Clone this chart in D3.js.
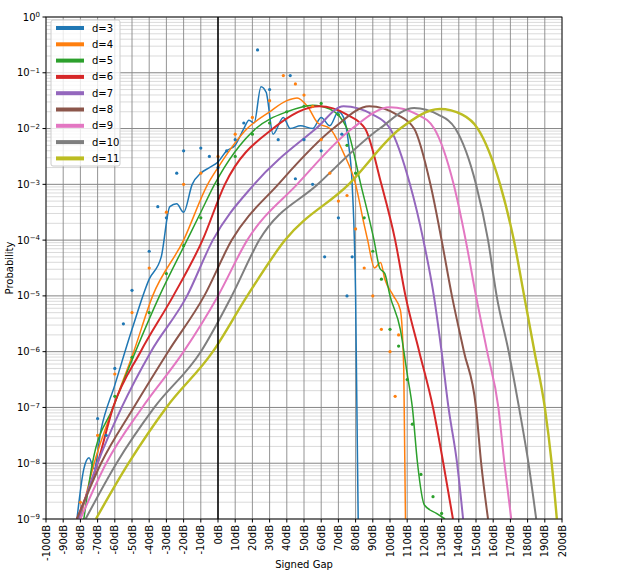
<!DOCTYPE html>
<html><head><meta charset="utf-8">
<script src="https://cdn.jsdelivr.net/npm/d3@7"></script>
<style>body{margin:0;background:#fff}text{font-family:"DejaVu Sans",sans-serif}</style>
</head><body><div id="viz"></div>
<script>
const labels = ['d=3','d=4','d=5','d=6','d=7','d=8','d=9','d=10','d=11'];
const colors = ['#1f77b4','#ff7f0e','#2ca02c','#d62728','#9467bd','#8c564b','#e377c2','#7f7f7f','#bcbd22'];
const xTicks = d3.range(-100, 201, 10);
const yExps = d3.range(-9, 1);

// [signed gap dB, log10 probability]
const curveD3 = [[-82,-9],[-78,-8.1],[-75,-7.9],[-72,-8.1],[-68,-7.4],[-60,-6.6],[-50,-5.6],[-40,-4.7],[-33,-4.3],[-28,-3.4],[-24,-3.35],[-20,-3.5],[-15,-3.0],[-10,-2.8],[-5,-2.7],[0,-2.6],[5,-2.4],[10,-2.3],[15,-2.0],[18,-1.85],[21,-1.9],[25,-1.25],[28,-1.35],[32,-2.1],[38,-1.8],[42,-2.0],[48,-1.95],[55,-2.0],[60,-1.8],[65,-1.95],[70,-1.7],[73,-1.8],[76,-2.3],[78,-3.0],[80,-5],[81.5,-9]];
const curveD4 = [[-80,-9],[-72,-8],[-61,-7],[-49,-6],[-38,-5],[-20,-4],[-6,-3],[0,-2.7],[17,-2],[30,-1.7],[40,-1.5],[46,-1.45],[52,-1.6],[58,-1.9],[65,-2],[73,-2.44],[80,-3],[84.8,-3.7],[87,-4],[91,-4.5],[94.5,-4.4],[97,-4.7],[102,-5],[106,-5.25],[108,-6.3],[109,-9]];
const curveD5 = [[-78,-9],[-73,-8],[-61,-7],[-48,-6],[-34,-5],[-18,-4],[-10,-3.5],[-2,-3],[22,-2],[40,-1.7],[55,-1.58],[65,-1.65],[75,-2],[83,-3],[90.7,-4],[94,-4.5],[97,-4.6],[100,-5],[106,-5.6],[110,-6.4],[113,-7],[116,-8],[120,-8.75],[127,-8.9],[132,-9]];
const curveD6 = [[-82,-9],[-70,-8],[-61,-7],[-45,-6],[-26,-5],[-9,-4],[4,-3],[32,-2],[59,-1.6],[75,-1.75],[85.5,-2],[95,-3],[103,-4],[109,-5],[117,-6],[125,-7],[131,-8],[136.6,-9]];
const curveD7 = [[-81,-9],[-70,-8],[-56,-7],[-39,-6],[-18,-5],[-3,-4],[21,-3],[57,-2],[73,-1.6],[90,-1.75],[100,-2],[111.6,-3],[119.4,-4],[125.5,-5],[130,-6],[134,-7],[139,-8],[142.5,-9]];
const curveD8 = [[-82,-9],[-68,-8],[-49,-7],[-29,-6],[-8,-5],[8,-4],[35,-3],[67,-2],[88,-1.6],[104,-1.75],[114,-2],[123.5,-3],[130,-4],[136,-5],[143,-6],[150,-7],[153,-8],[157,-9]];
const curveD9 = [[-80,-9],[-65,-8],[-44,-7],[-20,-6],[0,-5],[17,-4],[46,-3],[78,-2],[100,-1.62],[116,-1.75],[125.7,-2],[137,-3],[144,-4],[150,-5],[156.5,-6],[163,-7],[166.5,-8],[170.5,-9]];
const curveD10 = [[-77,-9],[-59,-8],[-37,-7],[-10,-6],[8,-5],[24,-4],[58,-3],[94,-2],[114,-1.63],[128,-1.75],[138,-2],[150,-3],[157,-4],[162,-5],[169,-6],[175,-7],[180.5,-8],[185,-9]];
const curveD11 = [[-71,-9],[-52,-8],[-30,-7],[-3,-6],[17,-5],[39,-4],[76,-3],[106,-2],[129,-1.65],[142,-1.75],[151,-2],[164,-3],[172,-4],[178,-5],[184,-6],[190,-7],[194,-8],[197,-9]];
const curves = [curveD3, curveD4, curveD5, curveD6, curveD7, curveD8, curveD9, curveD10, curveD11];

const dotsD3 = [[23,-0.59],[42,-1.05],[-24,-2.8],[-20,-2.4],[-10,-2.35],[-5,-2.5],[0,-2.7],[5,-2.4],[-30,-3.6],[-35,-3.4],[35,-2.2],[45,-2.9],[55,-3.0],[60,-2.4],[62,-4.3],[70,-3.6],[75,-5.0],[78,-4.3],[-50,-4.9],[-55,-5.5],[-40,-4.2],[-70,-7.2],[-60,-6.3],[-65,-7.5],[15,-1.9],[10,-2.2],[30,-1.3],[50,-2.2],[72,-2.1]];
const dotsD4 = [[38,-1.05],[45,-1.2],[50,-1.4],[55,-1.6],[60,-2.2],[65,-2.8],[70,-3.3],[75,-3.2],[80,-3.8],[85,-4.5],[90,-5.0],[95,-5.6],[100,-6.0],[103,-6.8],[105,-5.7],[0,-2.5],[-10,-2.8],[-20,-3.0],[-30,-3.5],[-40,-4.5],[-50,-5.3],[-60,-6.4],[-70,-7.5],[-80,-8.7],[10,-2.1],[20,-1.8],[30,-1.5]];
const dotsD5 = [[60,-1.55],[70,-1.75],[75,-2.3],[80,-2.8],[85,-3.6],[90,-4.2],[95,-4.7],[100,-5.6],[105,-5.9],[110,-6.5],[113,-7.3],[118,-8.2],[125,-8.6],[130,-8.9],[-10,-3.6],[-20,-4.1],[-30,-4.6],[-40,-5.3],[-50,-6.1],[-60,-6.8],[0,-3.0],[10,-2.5],[20,-2.1],[30,-1.9],[40,-1.7],[50,-1.6]];
const dots = [dotsD3, dotsD4, dotsD5];

const W = 633, H = 573;
const m = {left: 46, right: 71, top: 17, bottom: 54};
const svg = d3.select('#viz').append('svg').attr('width', W).attr('height', H);

const x = d3.scaleLinear().domain([-100, 200]).range([m.left, W - m.right]);
const y = d3.scaleLog().domain([1e-9, 1]).range([H - m.bottom, m.top]);

// grid
const minor = [];
yExps.slice(0, -1).forEach(e => { for (let k = 2; k < 10; k++) minor.push(k * Math.pow(10, e)); });
svg.append('g').selectAll('line').data(minor).join('line')
  .attr('x1', m.left).attr('x2', W - m.right).attr('y1', d => y(d)).attr('y2', d => y(d))
  .attr('stroke', '#d0d0d0').attr('stroke-width', 0.8);
svg.append('g').selectAll('line').data(yExps).join('line')
  .attr('x1', m.left).attr('x2', W - m.right).attr('y1', d => y(Math.pow(10, d))).attr('y2', d => y(Math.pow(10, d)))
  .attr('stroke', '#777').attr('stroke-width', 0.9);
svg.append('g').selectAll('line').data(xTicks).join('line')
  .attr('x1', d => x(d)).attr('x2', d => x(d)).attr('y1', m.top).attr('y2', H - m.bottom)
  .attr('stroke', '#888').attr('stroke-width', 0.9);

svg.append('defs').append('clipPath').attr('id', 'clip').append('rect')
  .attr('x', m.left).attr('y', m.top).attr('width', W - m.left - m.right).attr('height', H - m.top - m.bottom);

const plot = svg.append('g').attr('clip-path', 'url(#clip)');
const line = d3.line().x(d => x(d[0])).y(d => y(Math.pow(10, d[1]))).curve(d3.curveMonotoneX);

curves.forEach((c, i) => {
  plot.append('path').attr('d', line(c)).attr('fill', 'none')
    .attr('stroke', colors[i]).attr('stroke-width', i === 8 ? 2.4 : i > 2 ? 2 : 1.5);
});
dots.forEach((ds, i) => {
  plot.append('g').selectAll('circle').data(ds).join('circle')
    .attr('cx', d => x(d[0])).attr('cy', d => y(Math.pow(10, d[1]))).attr('r', 1.6)
    .attr('fill', colors[i]);
});

plot.append('line').attr('x1', x(0)).attr('x2', x(0)).attr('y1', m.top).attr('y2', H - m.bottom)
  .attr('stroke', '#000').attr('stroke-width', 1.5);

svg.append('rect').attr('x', m.left).attr('y', m.top).attr('width', W - m.left - m.right)
  .attr('height', H - m.top - m.bottom).attr('fill', 'none').attr('stroke', '#000').attr('stroke-width', 0.8);

// y ticks
const yt = svg.append('g').selectAll('g').data(yExps).join('g')
  .attr('transform', d => `translate(0,${y(Math.pow(10, d))})`);
yt.append('line').attr('x1', m.left - 3.5).attr('x2', m.left).attr('stroke', '#000');
const ytext = yt.append('text').attr('x', m.left - 6).attr('dy', '0.35em').attr('text-anchor', 'end')
  .attr('font-size', 10);
ytext.append('tspan').text('10');
ytext.append('tspan').attr('dy', '-0.45em').attr('font-size', 7).text(d => d === 0 ? '0' : '\u2212' + (-d));

// x ticks
const xt = svg.append('g').selectAll('g').data(xTicks).join('g')
  .attr('transform', d => `translate(${x(d)},${H - m.bottom})`);
xt.append('line').attr('y2', 3.5).attr('stroke', '#000');
xt.append('text').attr('transform', 'rotate(-90)').attr('x', -6).attr('dy', '0.35em')
  .attr('text-anchor', 'end').attr('font-size', 10).text(d => d + 'dB');

svg.append('text').attr('x', (m.left + W - m.right) / 2).attr('y', 568).attr('text-anchor', 'middle')
  .attr('font-size', 10).text('Signed Gap');
svg.append('text').attr('transform', `translate(13,${(m.top + H - m.bottom) / 2}) rotate(-90)`)
  .attr('text-anchor', 'middle').attr('font-size', 10).text('Probability');

// legend
const lg = svg.append('g').attr('transform', 'translate(51,20)');
lg.append('rect').attr('width', 69).attr('height', 146).attr('rx', 2).attr('fill', '#fff')
  .attr('fill-opacity', 0.8).attr('stroke', '#ccc');
const li = lg.selectAll('g').data(labels).join('g')
  .attr('transform', (d, i) => `translate(5,${8 + i * 16.3})`);
li.append('line').attr('x2', 28).attr('stroke', (d, i) => colors[i]).attr('stroke-width', 4);
li.append('text').attr('x', 36).attr('dy', '0.35em').attr('font-size', 10).text(d => d);
</script></body></html>
